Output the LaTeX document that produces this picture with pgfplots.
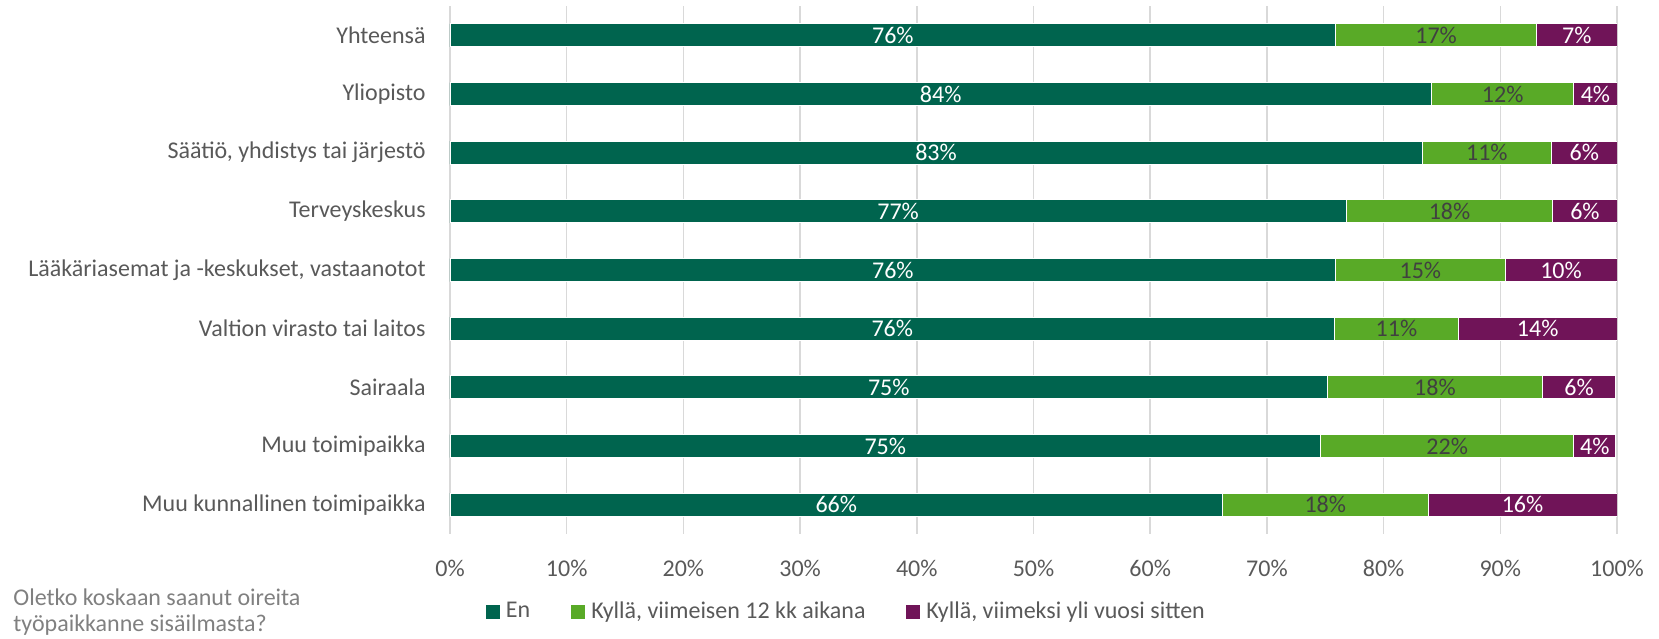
\documentclass[border=0pt]{standalone}
\usepackage{fontspec}
\setmainfont{Carlito}
\usepackage{pgfplots}
\usepackage{pgfplotstable}
\pgfplotsset{compat=1.18}
\definecolor{dg}{RGB}{0,100,78}
\definecolor{lg}{RGB}{89,170,39}
\definecolor{pu}{RGB}{112,20,88}
\definecolor{txt}{RGB}{89,89,89}
\definecolor{note}{RGB}{128,128,128}
\definecolor{grd}{RGB}{217,217,217}
\definecolor{dk}{RGB}{64,64,64}
\pgfplotstableread{
y a b c la lb lc
0 75.9 17.2 6.9 76 17 7
1 84.1 12.2 3.7 84 12 4
2 83.3 11.1 5.6 83 11 6
3 76.8 17.7 5.5 77 18 6
4 75.9 14.5 9.6 76 15 10
5 75.8 10.6 13.6 76 11 14
6 75.2 18.4 6.3 75 18 6
7 74.6 21.7 3.6 75 22 4
8 66.2 17.6 16.2 66 18 16
}\data
\newcommand{\fs}{\fontsize{12}{14}\selectfont}
\begin{document}
\begin{tikzpicture}[font=\fs]
\pgfplotsset{
  common/.style={
    at={(225pt,52pt)}, anchor=south west, scale only axis,
    width=583.5pt, height=264pt,
    xmin=0, xmax=100, ymin=-0.5, ymax=8.5, y dir=reverse,
  }
}
\begin{axis}[common,
  xbar stacked, bar width=11.5pt,
  axis line style={draw=none},
  major tick length=0pt,
  xmajorgrids, grid style={grd, line width=0.75pt},
  ytick={0,...,8},
  yticklabels={Yhteensä,Yliopisto,{Säätiö, yhdistys tai järjestö},Terveyskeskus,{Lääkäriasemat ja -keskukset, vastaanotot},Valtion virasto tai laitos,Sairaala,Muu toimipaikka,Muu kunnallinen toimipaikka},
  xtick={0,10,...,100},
  xticklabel={\pgfmathprintnumber{\tick}\%},
  /pgf/number format/assume math mode=true,
  yticklabel style={anchor=east, inner sep=0pt, xshift=-12pt, text=txt, font=\fs},
  xticklabel style={anchor=north, inner sep=0pt, yshift=-13pt, text=txt, font=\fs},
  legend style={at={(0.0308,-0.147)}, anchor=west, draw=none, fill=none,
    inner sep=0pt, outer sep=0pt, legend columns=-1,
    nodes={inner sep=0pt, text=txt, font=\fs},
    /tikz/every odd column/.append style={column sep=3pt},
    /tikz/every even column/.append style={column sep=20.5pt}},
  legend image code/.code={\fill[#1,draw=none] (0pt,-3.5pt) rectangle (7pt,3.5pt);},
]
\addplot[fill=dg, draw=white, line width=0.4pt] table[x=a, y=y]{\data};
\addlegendentry{En}
\addplot[fill=lg, draw=white, line width=0.4pt] table[x=b, y=y]{\data};
\addlegendentry{Kyllä, viimeisen 12 kk aikana}
\addplot[fill=pu, draw=white, line width=0.4pt] table[x=c, y=y]{\data};
\addlegendentry{Kyllä, viimeksi yli vuosi sitten}
\end{axis}
\begin{axis}[common, hide axis,
  nodes near coords={\pgfplotspointmeta\%},
  point meta=explicit symbolic,
  every node near coord/.append style={anchor=center, inner sep=0pt, font=\fs},
]
\addplot[draw=none, mark=none, nodes near coords style={text=white}]
  table[x expr=\thisrow{a}/2, y=y, meta=la]{\data};
\addplot[draw=none, mark=none, nodes near coords style={text=dk}]
  table[x expr=\thisrow{a}+\thisrow{b}/2, y=y, meta=lb]{\data};
\addplot[draw=none, mark=none, nodes near coords style={text=white}]
  table[x expr=\thisrow{a}+\thisrow{b}+\thisrow{c}/2, y=y, meta=lc]{\data};
\end{axis}
\node[anchor=base west, inner sep=0pt, text=note] at (6.5pt,16.5pt) {Oletko koskaan saanut oireita};
\node[anchor=base west, inner sep=0pt, text=note] at (6.5pt,3.5pt) {työpaikkanne sisäilmasta?};
\pgfresetboundingbox
\path (0,0) rectangle (829.5pt,319pt);
\end{tikzpicture}
\end{document}
